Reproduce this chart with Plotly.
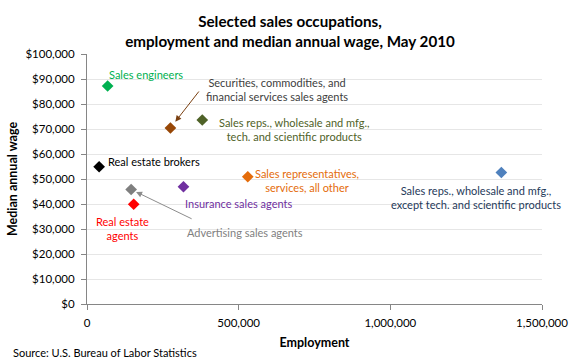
import plotly.graph_objects as go

occupations = [
    "Sales engineers",
    "Securities, commodities, and financial services sales agents",
    "Sales reps., wholesale and mfg., tech. and scientific products",
    "Real estate brokers",
    "Advertising sales agents",
    "Insurance sales agents",
    "Sales representatives, services, all other",
    "Real estate agents",
    "Sales reps., wholesale and mfg., except tech. and scientific products",
]
employment = [68000, 275000, 380000, 40000, 145500, 318000, 530000, 154000, 1366000]
median_wage = [87200, 70400, 73600, 54900, 45800, 46900, 50900, 39900, 52600]
marker_colors = ["#00b050", "#974706", "#4f6228", "#000000", "#7f7f7f",
                 "#7030a0", "#e46c0a", "#ff0000", "#4f81bd"]
label_texts = [
    "Sales engineers",
    "Securities, commodities, and<br>financial services sales agents",
    "Sales reps., wholesale and mfg.,<br>tech. and scientific products",
    "Real estate brokers",
    "Advertising sales agents",
    "Insurance sales agents",
    "Sales representatives,<br>services, all other",
    "Real estate<br>agents",
    "Sales reps., wholesale and mfg.,<br>except tech. and scientific products",
]
label_colors = ["#00b050", "#404040", "#4f6228", "#000000", "#7f7f7f",
                "#7030a0", "#e46c0a", "#ff0000", "#1f3a5a"]
# pixel offsets of labels relative to points (xshift, yshift, xanchor)
label_offsets = [(38, 12, "center"), (107, 39, "center"), (92, -9, "center"),
                 (6.6, 5.7, "left"), (114, -43, "center"), (55, -16.6, "center"),
                 (59, -4, "center"), (-11.4, -24.5, "center"), (-25.6, -25, "center")]
y_ticks = list(range(0, 100001, 10000))
y_tick_labels = ["$0", "$10,000", "$20,000", "$30,000", "$40,000", "$50,000",
                 "$60,000", "$70,000", "$80,000", "$90,000", "$100,000"]
x_ticks = [0, 500000, 1000000, 1500000]
x_tick_labels = ["0", "500,000", "1,000,000", "1,500,000"]

FONT = "Lato, 'Open Sans', sans-serif"
W, H = 580, 363
L, R, T, B = 84.5, 36.7, 54, 59.3
PW, PH = W - L - R, H - T - B

fig = go.Figure()
fig.add_trace(go.Scatter(
    x=employment, y=median_wage, mode="markers",
    marker=dict(symbol="diamond", size=9, color=marker_colors),
    text=occupations, hoverinfo="text", showlegend=False,
))

annotations = []
for i, t in enumerate(label_texts):
    xs, ys, xa = label_offsets[i]
    annotations.append(dict(
        x=employment[i], y=median_wage[i], xref="x", yref="y",
        text=t, showarrow=False, xshift=xs, yshift=ys, xanchor=xa, yanchor="middle",
        font=dict(family=FONT, size=11, color=label_colors[i]), align="center",
    ))

# arrows
annotations.append(dict(x=employment[1], y=median_wage[1], xref="x", yref="y",
                        ax=29.6, ay=-38, axref="pixel", ayref="pixel", text="",
                        showarrow=True, arrowhead=2, arrowsize=1.2, arrowwidth=1,
                        arrowcolor="#7a3f10", standoff=8))
annotations.append(dict(x=employment[4], y=median_wage[4], xref="x", yref="y",
                        ax=62, ay=30, axref="pixel", ayref="pixel", text="",
                        showarrow=True, arrowhead=2, arrowsize=1.2, arrowwidth=1,
                        arrowcolor="#8c8c8c", standoff=5.5))

annotations.append(dict(x=(8 - L) / PW, y=-(352 - (H - B)) / PH, xref="paper", yref="paper",
                        text="Source: U.S. Bureau of Labor Statistics", xanchor="left", yanchor="middle",
                        showarrow=False, font=dict(family=FONT, size=11, color="#000000")))

fig.update_layout(
    width=W, height=H,
    margin=dict(l=L, r=R, t=T, b=B),
    plot_bgcolor="white", paper_bgcolor="white",
    font=dict(family=FONT, size=11, color="#000000"),
    title=dict(text="<b>Selected sales occupations,<br>employment and median annual wage, May 2010</b>",
               xref="container", x=0.5, xanchor="center", yref="container", y=1 - 27 / H,
               yanchor="middle", font=dict(family=FONT, size=15.2, color="#000000")),
    xaxis=dict(range=[0, 1500000], tickvals=x_ticks, ticktext=x_tick_labels,
               showgrid=False, zeroline=False, showline=True, linecolor="#868686",
               ticks="outside", ticklen=5, tickcolor="#868686", tickfont=dict(size=11.5),
               ticklabelstandoff=3,
               title=dict(text="<b>Employment</b>", font=dict(size=12.5), standoff=10)),
    yaxis=dict(range=[0, 100000], tickvals=y_ticks, ticktext=y_tick_labels,
               showgrid=True, gridcolor="#e6e6e6", zeroline=False, showline=True,
               linecolor="#868686", ticks="outside", ticklen=5, tickcolor="#868686",
               tickfont=dict(size=11.5), ticklabelstandoff=4,
               title=dict(text="<b>Median annual wage</b>", font=dict(size=12.5), standoff=5)),
    annotations=annotations,
)

fig.write_html("out.html", config={"displayModeBar": False},
               post_script="document.body.style.margin='0';document.body.style.padding='0';")
